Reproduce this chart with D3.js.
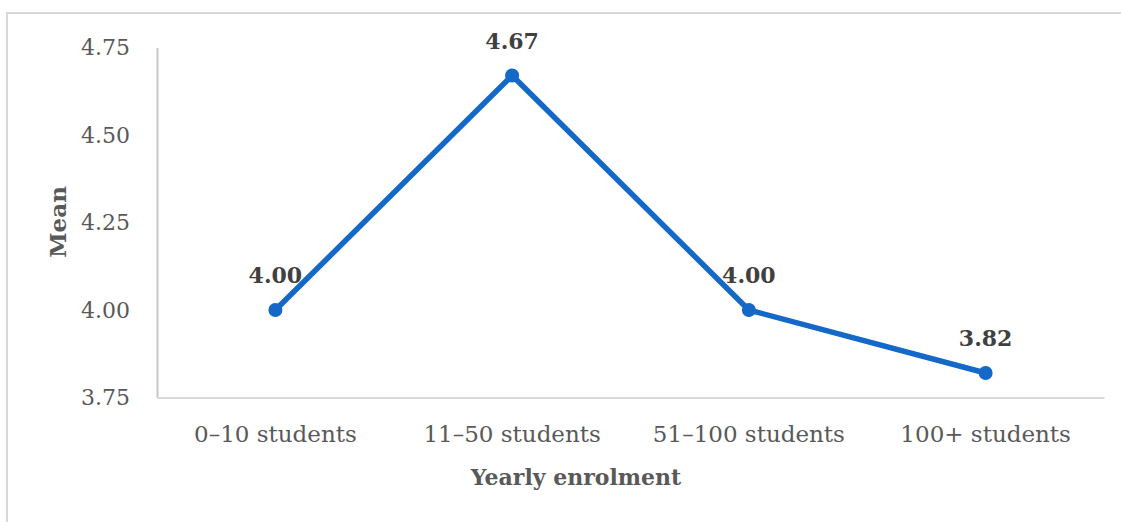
<!DOCTYPE html>
<html>
<head>
<meta charset="utf-8">
<script src="https://cdn.jsdelivr.net/npm/d3@7"></script>
<style>
  html, body { margin: 0; padding: 0; background: #fff; }
  svg { display: block; }
  text { font-family: "DejaVu Serif", "Liberation Serif", serif; }
</style>
</head>
<body>
<svg id="chart" width="1121" height="522"></svg>
<script>
// Mean score by yearly enrolment band
const categories = ["0–10 students", "11–50 students", "51–100 students", "100+ students"];
const means = [4.00, 4.67, 4.00, 3.82];
const yTicks = [3.75, 4.00, 4.25, 4.50, 4.75];

const svg = d3.select("#chart");
const W = 1121, H = 522;
const plot = { left: 157, right: 1104, top: 47.5, bottom: 397.5 };

// Outer frame (top and left edges visible)
svg.append("path")
  .attr("d", `M7,${H} V13 H${W}`)
  .attr("fill", "none")
  .attr("stroke", "#d9d9d9")
  .attr("stroke-width", 2);

const x = d3.scaleBand().domain(categories).range([plot.left, plot.right]);
const y = d3.scaleLinear().domain([3.75, 4.75]).range([plot.bottom, plot.top]);

// Y axis
const yAxis = svg.append("g")
  .attr("transform", `translate(${plot.left},0)`)
  .call(d3.axisLeft(y).tickValues(yTicks).tickFormat(d3.format(".2f")).tickSize(0).tickPadding(27));
yAxis.select(".domain").attr("stroke", "#c8c8c8").attr("stroke-width", 2);
yAxis.selectAll("text")
  .attr("fill", "#595959")
  .style("font-size", "22px")
  .style("font-family", "'DejaVu Serif', serif");

// X axis
const xAxis = svg.append("g")
  .attr("transform", `translate(0,${plot.bottom})`)
  .call(d3.axisBottom(x).tickSize(0).tickPadding(28));
xAxis.select(".domain").attr("stroke", "#d9d9d9").attr("stroke-width", 2);
xAxis.selectAll("text")
  .attr("fill", "#595959")
  .style("font-size", "23px")
  .style("font-family", "'DejaVu Serif', serif");

// Axis titles
svg.append("text")
  .attr("transform", `translate(66,222) rotate(-90)`)
  .attr("text-anchor", "middle")
  .attr("fill", "#595959")
  .attr("font-weight", "bold")
  .style("font-size", "23px")
  .text("Mean");

svg.append("text")
  .attr("x", 576)
  .attr("y", 485)
  .attr("text-anchor", "middle")
  .attr("fill", "#595959")
  .attr("font-weight", "bold")
  .style("font-size", "22px")
  .text("Yearly enrolment");

const pts = categories.map((c, i) => ({ c, v: means[i] }));
const cx = d => x(d.c) + x.bandwidth() / 2;

// Series line
svg.append("path")
  .datum(pts)
  .attr("fill", "none")
  .attr("stroke", "#1468c8")
  .attr("stroke-width", 5.5)
  .attr("stroke-linejoin", "round")
  .attr("d", d3.line().x(cx).y(d => y(d.v)));

// Markers
svg.selectAll("circle.pt")
  .data(pts)
  .join("circle")
  .attr("class", "pt")
  .attr("cx", cx)
  .attr("cy", d => y(d.v))
  .attr("r", 7)
  .attr("fill", "#1468c8");

// Value labels
svg.selectAll("text.val")
  .data(pts)
  .join("text")
  .attr("class", "val")
  .attr("x", cx)
  .attr("y", d => y(d.v) - 27)
  .attr("text-anchor", "middle")
  .attr("fill", "#404040")
  .attr("font-weight", "bold")
  .style("font-size", "22px")
  .text(d => d.v.toFixed(2));
</script>
</body>
</html>
